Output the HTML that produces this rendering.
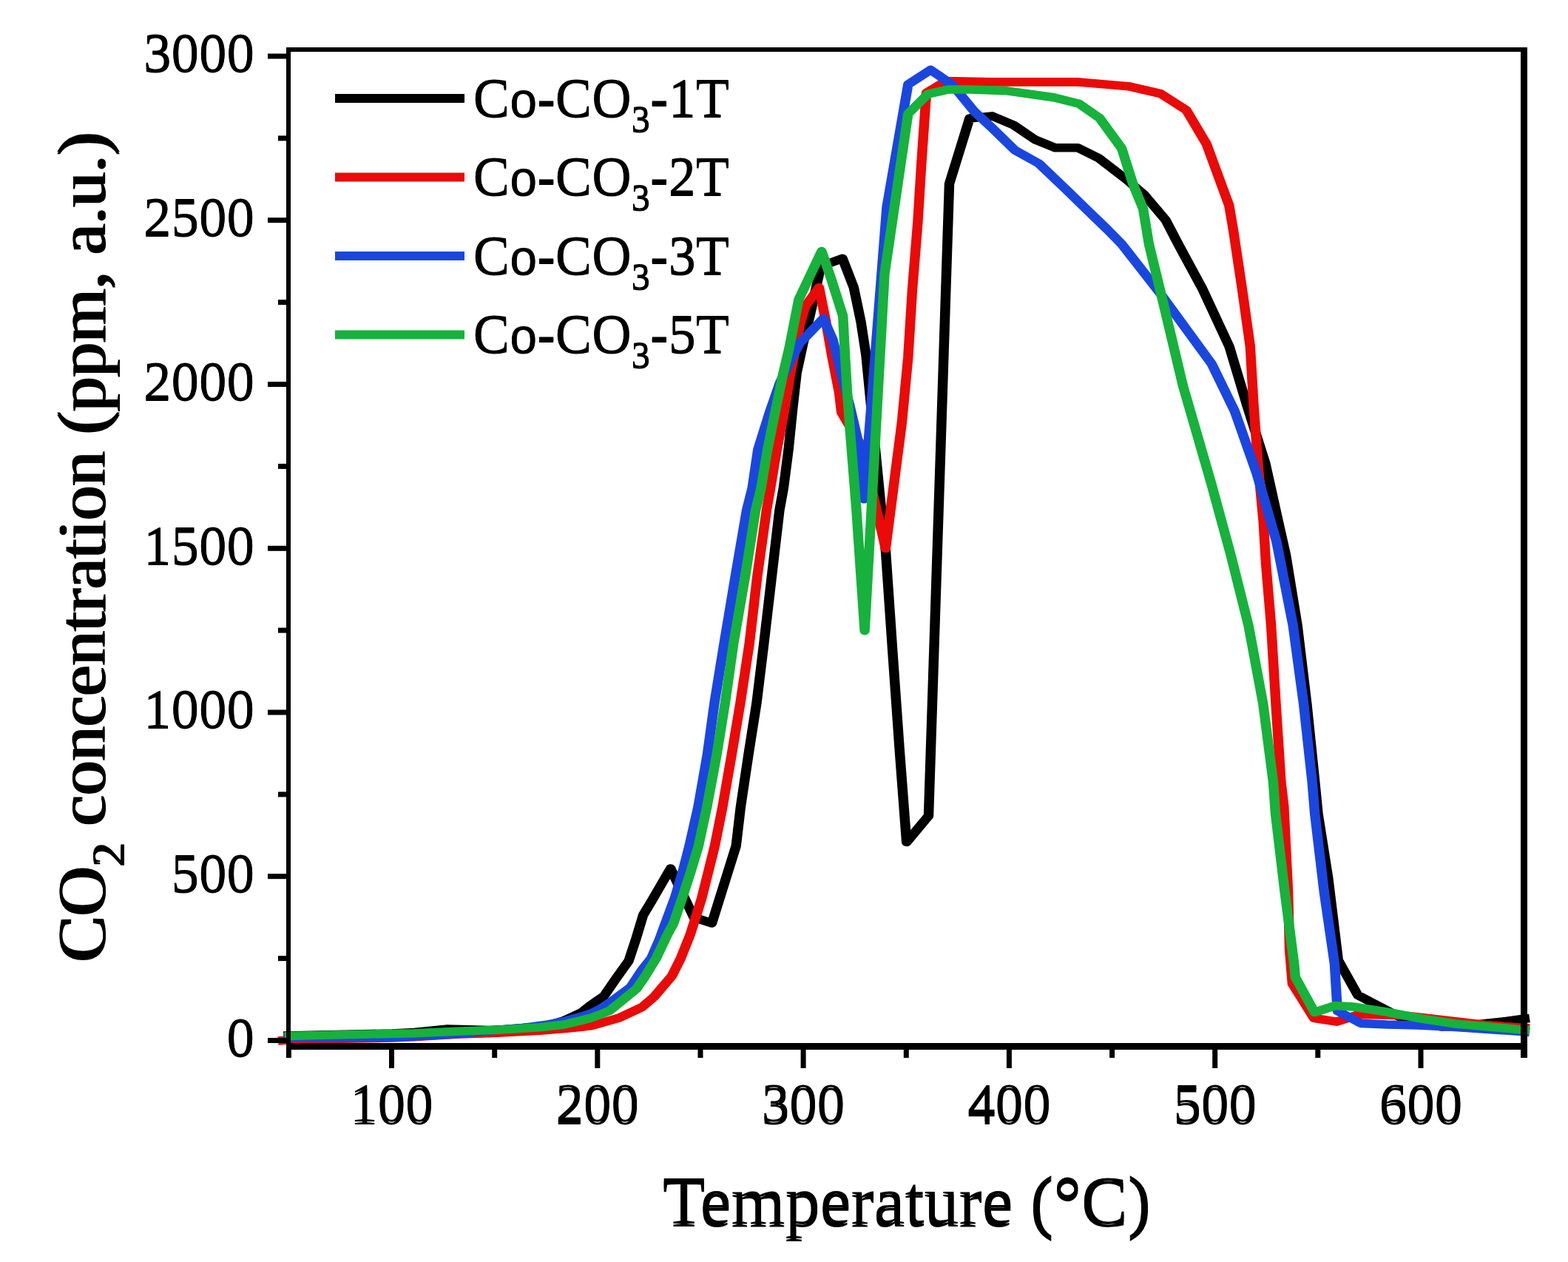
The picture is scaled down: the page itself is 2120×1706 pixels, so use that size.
<!DOCTYPE html><html><head><meta charset="utf-8"><title>CO2 TPD</title><style>html,body{margin:0;padding:0;background:#fff;overflow:hidden}svg{display:block}</style></head><body>
<svg width="2120" height="1706" viewBox="0 0 2120 1706" font-family="'Liberation Serif','Times New Roman',serif">
<rect width="2120" height="1706" fill="#fff"/>
<g fill="none" stroke-width="11.6" stroke-linejoin="round" stroke-linecap="butt" transform="scale(1.16 1)">
<polyline stroke="#000000" points="330.17,1400.0 336.21,1400.0 370.69,1399.0 413.79,1398.0 456.90,1397.0 482.76,1395.6 521.55,1391.0 546.55,1391.7 570.69,1392.5 585.34,1391.7 620.69,1388.5 642.24,1385.0 656.47,1380.0 677.93,1368.5 688.79,1358.5 704.14,1346.2 717.76,1323.3 732.76,1299.0 741.38,1268.8 749.66,1237.0 758.71,1219.6 769.31,1198.5 781.55,1174.0 808.62,1240.0 829.74,1248.0 857.93,1143.5 863.28,1090.7 872.33,1020.4 881.90,950.0 890.34,870.0 899.48,779.3 908.53,689.7 913.19,660.0 919.05,607.7 923.53,556.1 928.53,504.5 935.78,465.8 944.57,423.8 956.72,360.0 981.98,349.3 995.09,388.6 1003.45,435.0 1009.40,480.0 1026.98,686.5 1032.33,745.0 1040.26,879.0 1048.62,1016.0 1056.64,1138.5 1082.33,1102.8 1106.47,248.4 1130.09,160.0 1156.38,156.9 1181.55,169.1 1206.38,188.7 1229.83,199.7 1256.21,199.7 1281.03,214.1 1313.28,243.0 1333.79,263.4 1358.62,297.4 1373.28,330.0 1400.95,389.2 1432.76,468.3 1453.28,547.5 1474.91,626.6 1490.09,705.8 1498.71,750.0 1512.16,845.5 1523.10,951.1 1532.50,1056.6 1536.21,1100.0 1548.02,1186.7 1559.74,1297.9 1582.59,1345.2 1606.90,1360.0 1631.03,1374.5 1656.03,1383.0 1681.03,1388.0 1704.31,1387.0 1727.59,1384.0 1751.72,1381.0 1774.14,1377.6 1782.76,1376.5"/>
<polyline stroke="#EA0A08" points="324.14,1407.0 336.21,1406.0 370.69,1405.0 413.79,1404.0 456.90,1403.0 482.76,1401.7 531.55,1398.3 580.34,1396.1 629.14,1393.2 658.45,1390.4 677.93,1388.2 689.66,1386.5 720.86,1376.3 748.45,1361.3 762.59,1347.3 783.10,1319.4 793.36,1295.6 804.66,1262.8 813.62,1230.0 817.93,1213.9 825.52,1178.7 833.10,1143.5 842.16,1090.7 852.76,1020.4 862.93,950.0 873.45,870.0 882.59,779.3 893.45,689.7 897.93,660.0 905.43,607.7 914.05,556.1 921.29,504.5 925.34,482.3 932.07,440.0 938.53,414.4 954.66,388.6 962.76,435.5 969.83,482.3 977.93,530.0 980.78,557.4 1005.60,606.0 1020.69,684.0 1032.24,741.3 1051.29,570.0 1058.45,482.9 1063.36,391.5 1069.74,300.0 1073.88,222.4 1078.45,146.2 1079.74,125.6 1102.50,109.6 1155.17,110.9 1257.67,110.9 1316.21,116.8 1352.76,126.7 1382.76,148.8 1406.21,194.6 1432.59,277.8 1437.33,310.0 1447.59,389.2 1457.16,468.3 1461.21,547.5 1466.21,626.6 1472.59,705.8 1475.34,760.0 1481.55,845.5 1487.07,951.1 1493.02,1056.6 1496.38,1090.0 1501.38,1206.0 1503.02,1283.4 1506.38,1329.8 1531.38,1376.3 1558.10,1381.1 1582.24,1372.0 1593.97,1371.5 1634.48,1372.6 1696.55,1380.7 1731.55,1385.5 1782.76,1390.0"/>
<polyline stroke="#1A46E0" points="330.17,1402.0 336.21,1402.0 370.69,1403.0 413.79,1403.0 456.90,1402.5 482.76,1401.0 531.03,1398.0 580.34,1392.2 609.66,1389.4 638.88,1384.9 658.45,1380.3 677.93,1374.1 689.66,1369.6 705.00,1360.4 734.91,1334.6 747.76,1312.0 759.05,1295.6 768.28,1271.0 775.26,1249.0 786.55,1213.9 795.60,1178.7 803.45,1143.5 813.79,1090.7 824.40,1020.4 832.76,950.0 843.97,870.0 857.07,779.3 870.34,689.7 876.81,660.0 883.45,607.7 897.41,556.1 909.05,517.4 922.41,485.0 932.41,463.6 959.74,430.5 970.52,458.7 976.12,484.5 981.64,510.3 990.09,547.0 1000.86,600.0 1005.43,640.0 1006.98,674.8 1033.62,280.0 1058.45,114.2 1084.74,94.4 1110.34,115.0 1135.69,150.8 1155.17,171.7 1183.02,203.1 1210.78,221.0 1243.02,256.6 1272.24,289.7 1290.52,310.0 1307.41,330.0 1350.86,394.4 1412.33,492.0 1438.97,555.4 1464.66,639.8 1487.84,732.2 1507.07,845.5 1519.40,951.1 1529.40,1056.6 1532.50,1100.0 1543.36,1206.0 1555.52,1302.8 1558.88,1366.6 1586.21,1383.4 1616.38,1385.0 1652.59,1386.0 1696.55,1388.5 1774.14,1394.5 1782.76,1395.5"/>
<polyline stroke="#16B23C" points="331.90,1401.0 336.21,1400.5 353.45,1400.0 387.93,1399.0 431.03,1398.0 482.76,1396.7 531.55,1394.2 580.34,1392.2 629.14,1388.8 657.41,1384.9 677.93,1379.4 689.66,1375.8 710.34,1366.5 742.07,1336.5 751.64,1320.2 764.74,1295.6 778.19,1262.8 784.74,1249.0 795.17,1213.9 805.00,1178.7 814.14,1143.5 823.97,1090.7 835.34,1020.4 845.17,950.0 854.91,870.0 868.53,779.3 880.69,689.7 887.07,660.0 894.57,607.7 903.71,556.1 912.93,504.5 919.83,470.6 930.95,405.0 957.67,339.6 968.79,376.9 982.50,427.3 984.91,480.0 987.50,530.0 990.86,583.2 998.02,686.5 1007.84,852.6 1031.03,370.0 1058.45,153.8 1081.47,127.2 1105.17,121.0 1131.38,121.0 1172.41,122.6 1228.36,131.8 1257.67,140.3 1281.81,159.8 1307.41,200.6 1320.86,249.8 1332.33,282.0 1339.14,330.0 1357.07,415.5 1378.71,521.1 1391.90,573.9 1411.64,653.0 1434.48,750.0 1455.17,845.5 1472.16,951.1 1483.97,1056.6 1486.64,1100.0 1497.50,1206.0 1508.36,1302.8 1509.74,1321.1 1532.24,1368.5 1556.03,1359.5 1577.59,1361.0 1616.38,1368.0 1656.90,1377.0 1696.55,1384.0 1731.03,1387.5 1782.76,1393.0"/>
</g>
<g fill="#000">
<rect x="387" y="64" width="6" height="1366"/>
<rect x="2056" y="64" width="9" height="1366"/>
<rect x="387" y="64" width="1678" height="6"/>
<rect x="387" y="1410" width="1678" height="9"/>
<rect x="362" y="1403.0" width="26" height="7"/>
<rect x="376" y="1292.1" width="12" height="7"/>
<rect x="362" y="1181.2" width="26" height="7"/>
<rect x="376" y="1070.4" width="12" height="7"/>
<rect x="362" y="959.5" width="26" height="7"/>
<rect x="376" y="848.6" width="12" height="7"/>
<rect x="362" y="737.8" width="26" height="7"/>
<rect x="376" y="626.9" width="12" height="7"/>
<rect x="362" y="516.0" width="26" height="7"/>
<rect x="376" y="405.1" width="12" height="7"/>
<rect x="362" y="294.2" width="26" height="7"/>
<rect x="376" y="183.4" width="12" height="7"/>
<rect x="362" y="72.5" width="26" height="7"/>
<rect x="386.9" y="1418" width="7" height="12"/>
<rect x="526.0" y="1418" width="7" height="26"/>
<rect x="665.2" y="1418" width="7" height="12"/>
<rect x="804.3" y="1418" width="7" height="26"/>
<rect x="943.5" y="1418" width="7" height="12"/>
<rect x="1082.6" y="1418" width="7" height="26"/>
<rect x="1221.8" y="1418" width="7" height="12"/>
<rect x="1360.9" y="1418" width="7" height="26"/>
<rect x="1500.1" y="1418" width="7" height="12"/>
<rect x="1639.2" y="1418" width="7" height="26"/>
<rect x="1778.3" y="1418" width="7" height="12"/>
<rect x="1917.5" y="1418" width="7" height="26"/>
<rect x="2056.7" y="1418" width="7" height="12"/>
</g>
<g font-size="75" text-anchor="end" fill="#000">
<text x="344" y="1426.7">0</text>
<text x="344" y="1428.7" aria-hidden="true">0</text>
<text x="344" y="1205.0">500</text>
<text x="344" y="1207.0" aria-hidden="true">500</text>
<text x="344" y="983.2">1000</text>
<text x="344" y="985.2" aria-hidden="true">1000</text>
<text x="344" y="761.5">1500</text>
<text x="344" y="763.5" aria-hidden="true">1500</text>
<text x="344" y="539.7">2000</text>
<text x="344" y="541.7" aria-hidden="true">2000</text>
<text x="344" y="317.9">2500</text>
<text x="344" y="319.9" aria-hidden="true">2500</text>
<text x="344" y="96.2">3000</text>
<text x="344" y="98.2" aria-hidden="true">3000</text>
</g>
<g font-size="75" text-anchor="middle" fill="#000">
<text x="529.5" y="1516">100</text>
<text x="529.5" y="1520" aria-hidden="true">100</text>
<text x="807.8" y="1516">200</text>
<text x="807.8" y="1520" aria-hidden="true">200</text>
<text x="1086.1" y="1516">300</text>
<text x="1086.1" y="1520" aria-hidden="true">300</text>
<text x="1364.4" y="1516">400</text>
<text x="1364.4" y="1520" aria-hidden="true">400</text>
<text x="1642.7" y="1516">500</text>
<text x="1642.7" y="1520" aria-hidden="true">500</text>
<text x="1921.0" y="1516">600</text>
<text x="1921.0" y="1520" aria-hidden="true">600</text>
</g>
<text x="896" y="1653.5" font-size="94" fill="#000">Temperature (°C)</text>
<text x="896" y="1657.7" font-size="94" fill="#000" aria-hidden="true">Temperature (°C)</text>
<text transform="translate(141.8,1301.7) rotate(-90)" x="0" y="0" font-size="93" fill="#000">CO<tspan font-size="63" dy="26">2</tspan><tspan dy="-26"> concentration (ppm, a.u.)</tspan></text>
<text aria-hidden="true" transform="translate(141.8,1298.7) rotate(-90)" x="0" y="0" font-size="93" fill="#000">CO<tspan font-size="63" dy="26">2</tspan><tspan dy="-26"> concentration (ppm, a.u.)</tspan></text>
<rect x="453" y="127.0" width="175" height="12" fill="#000000"/>
<text x="639.8" y="156.6" font-size="74" fill="#000">Co-CO<tspan font-size="51" dy="20">3</tspan><tspan dy="-20">-1T</tspan></text>
<text x="639.8" y="158.6" font-size="74" fill="#000" aria-hidden="true">Co-CO<tspan font-size="51" dy="20">3</tspan><tspan dy="-20">-1T</tspan></text>
<rect x="453" y="233.5" width="175" height="12" fill="#EA0A08"/>
<text x="639.8" y="263.1" font-size="74" fill="#000">Co-CO<tspan font-size="51" dy="20">3</tspan><tspan dy="-20">-2T</tspan></text>
<text x="639.8" y="265.1" font-size="74" fill="#000" aria-hidden="true">Co-CO<tspan font-size="51" dy="20">3</tspan><tspan dy="-20">-2T</tspan></text>
<rect x="453" y="340.0" width="175" height="12" fill="#1A46E0"/>
<text x="639.8" y="369.6" font-size="74" fill="#000">Co-CO<tspan font-size="51" dy="20">3</tspan><tspan dy="-20">-3T</tspan></text>
<text x="639.8" y="371.6" font-size="74" fill="#000" aria-hidden="true">Co-CO<tspan font-size="51" dy="20">3</tspan><tspan dy="-20">-3T</tspan></text>
<rect x="453" y="446.5" width="175" height="12" fill="#16B23C"/>
<text x="639.8" y="476.1" font-size="74" fill="#000">Co-CO<tspan font-size="51" dy="20">3</tspan><tspan dy="-20">-5T</tspan></text>
<text x="639.8" y="478.1" font-size="74" fill="#000" aria-hidden="true">Co-CO<tspan font-size="51" dy="20">3</tspan><tspan dy="-20">-5T</tspan></text>
</svg></body></html>
